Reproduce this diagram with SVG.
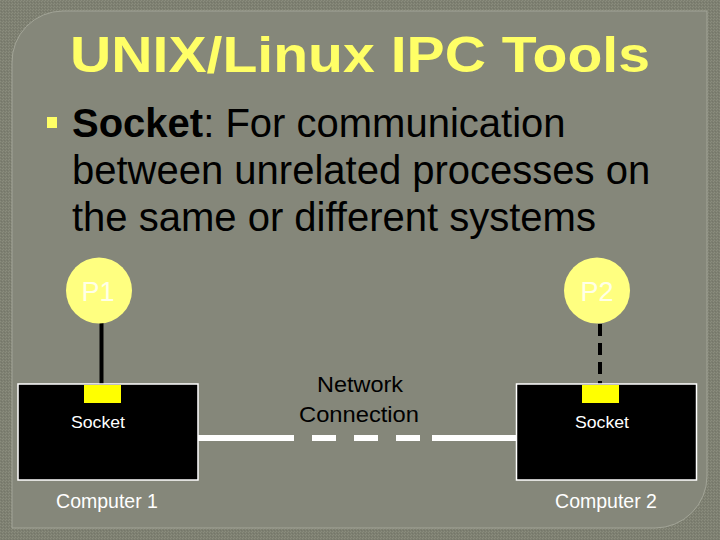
<svg xmlns="http://www.w3.org/2000/svg" width="720" height="540" viewBox="0 0 720 540">
  <defs>
    <pattern id="tex" width="3" height="3" patternUnits="userSpaceOnUse">
      <rect width="3" height="3" fill="#7d7f70"/>
      <rect x="0" y="0" width="1" height="1" fill="#8a8c7e"/>
      <rect x="2" y="1" width="1" height="1" fill="#8a8c7e"/>
      <rect x="1" y="2" width="1" height="1" fill="#74766a"/>
    </pattern>
  </defs>
  <style>
    .sans { font-family: "Liberation Sans", Arial, sans-serif; }
    .box { fill: #000000; stroke: #ffffff; stroke-width: 1.5; }
    .sock { fill: #ffff00; }
    .proc { fill: #ffff80; }
    .ptxt { fill: #ffffe8; font-size: 27px; text-anchor: middle; }
    .wtxt { fill: #ffffff; text-anchor: middle; }
    .net { stroke: #ffffff; stroke-width: 6; fill: none; }
  </style>

  <rect width="720" height="540" fill="url(#tex)"/>
  <path d="M12,63 A51,51 0 0 1 63,11 H707 V476 A52,52 0 0 1 655,528 H12 Z" fill="#85877a" stroke="#a2a497" stroke-width="1"/>

  <text class="sans" x="70" y="72" font-size="50" font-weight="bold" fill="#ffff66" textLength="580" lengthAdjust="spacingAndGlyphs">UNIX/Linux IPC Tools</text>

  <rect x="47" y="117" width="10" height="11" fill="#ffff66"/>
  <g class="sans" font-size="40" fill="#000000">
    <text x="72" y="137"><tspan font-weight="bold">Socket</tspan>: For communication</text>
    <text x="72" y="184">between unrelated processes on</text>
    <text x="72" y="231">the same or different systems</text>
  </g>

  <g id="connectors">
    <line x1="101.5" y1="323" x2="101.5" y2="385" stroke="#000000" stroke-width="4"/>
    <line x1="600" y1="324" x2="600" y2="385" stroke="#000000" stroke-width="4" stroke-dasharray="12 7"/>
    <line class="net" x1="198" y1="438" x2="294" y2="438"/>
    <line class="net" x1="312" y1="438" x2="336" y2="438"/>
    <line class="net" x1="354" y1="438" x2="378" y2="438"/>
    <line class="net" x1="396" y1="438" x2="420" y2="438"/>
    <line class="net" x1="432" y1="438" x2="516" y2="438"/>
  </g>

  <g id="p1">
    <circle class="proc" cx="99" cy="290.5" r="33"/>
    <text class="sans ptxt" x="98" y="301">P1</text>
  </g>
  <g id="p2">
    <circle class="proc" cx="597" cy="290.5" r="33"/>
    <text class="sans ptxt" x="597" y="301">P2</text>
  </g>

  <g id="computer1">
    <rect class="box" x="18" y="384" width="180" height="96"/>
    <rect class="sock" x="84" y="385" width="37" height="18"/>
    <text class="sans wtxt" x="98" y="428" font-size="17" textLength="54" lengthAdjust="spacingAndGlyphs">Socket</text>
    <text class="sans wtxt" x="107" y="508" font-size="19.5">Computer 1</text>
  </g>
  <g id="computer2">
    <rect class="box" x="516.5" y="384" width="180" height="96"/>
    <rect class="sock" x="582" y="385" width="37" height="18"/>
    <text class="sans wtxt" x="602" y="428" font-size="17" textLength="54" lengthAdjust="spacingAndGlyphs">Socket</text>
    <text class="sans wtxt" x="606" y="508" font-size="19.5">Computer 2</text>
  </g>

  <g id="network-label" class="sans" font-size="22" fill="#000000" text-anchor="middle">
    <text x="360" y="392" textLength="86" lengthAdjust="spacingAndGlyphs">Network</text>
    <text x="359" y="422" textLength="120" lengthAdjust="spacingAndGlyphs">Connection</text>
  </g>
</svg>
